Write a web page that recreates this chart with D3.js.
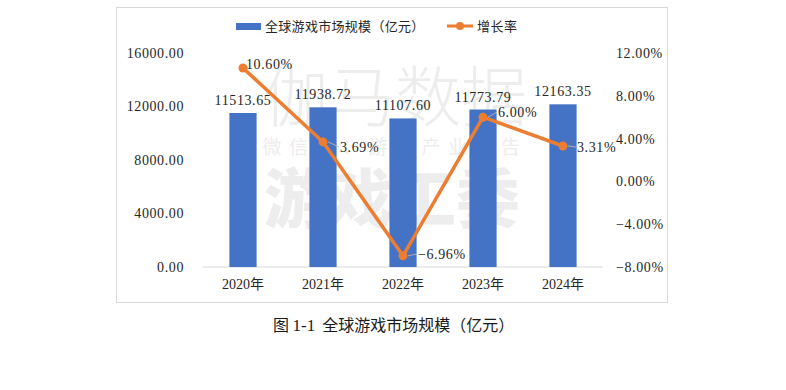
<!DOCTYPE html>
<html>
<head>
<meta charset="utf-8">
<script src="https://cdn.jsdelivr.net/npm/d3@7"></script>
<style>
  body { margin: 0; background: #fff; }
  svg { display: block; }
</style>
</head>
<body>
<div id="svg-area"></div>
<script>
// chart data
var years = ["2020年", "2021年", "2022年", "2023年", "2024年"];
var marketSize = [11513.65, 11938.72, 11107.60, 11773.79, 12163.35];
var growth = [10.60, 3.69, -6.96, 6.00, 3.31];
var leftTicks = [0, 4000, 8000, 12000, 16000];
var rightTicks = [-8, -4, 0, 4, 8, 12];
var seriesNames = ["全球游戏市场规模（亿元）", "增长率"];

var svgWidth = 786, svgHeight = 390;
var numFont = "'Liberation Serif', 'Noto Sans CJK SC', serif";
var blue = "#4472C4", orange = "#ED7D31";

var svg = d3.select("#svg-area").append("svg")
    .attr("width", svgWidth)
    .attr("height", svgHeight);

// chart frame
svg.append("rect")
    .attr("x", 116.5).attr("y", 7.5)
    .attr("width", 551).attr("height", 295)
    .attr("fill", "#fff")
    .attr("stroke", "#d9d9d9");

// watermark
var wm = svg.append("g").attr("fill", "#ededed").attr("text-anchor", "middle");
wm.append("text").attr("x", 395).attr("y", 121)
    .style("font-family", "'Noto Sans CJK SC'").style("font-size", "66px").style("font-weight", 300)
    .text("伽马数据");
wm.append("text").attr("x", 395).attr("y", 154)
    .style("font-family", "'Noto Sans CJK SC'").style("font-size", "19px").style("letter-spacing", "7.5px")
    .text("微信号：游戏产业报告");
wm.append("text").attr("x", 392).attr("y", 222)
    .style("font-family", "'Noto Sans CJK SC'").style("font-size", "64px").style("font-weight", 900)
    .text("游戏工委");

// scales
var x = d3.scaleBand()
    .domain(years)
    .range([203, 603])
    .paddingInner(0.66)
    .paddingOuter(0.33);

var yLeft = d3.scaleLinear().domain([0, 16000]).range([267, 53]);
var yRight = d3.scaleLinear().domain([-8, 12]).range([267, 53]);

// baseline
svg.append("line")
    .attr("x1", 203).attr("x2", 603)
    .attr("y1", yLeft(0)).attr("y2", yLeft(0))
    .attr("stroke", "#d9d9d9");

// left axis
var leftAxis = svg.append("g")
    .attr("transform", "translate(184,0)")
    .call(d3.axisLeft(yLeft).tickValues(leftTicks).tickSize(0).tickPadding(0)
        .tickFormat(d => d.toFixed(2)));
leftAxis.select(".domain").remove();
leftAxis.selectAll("text")
    .style("font-family", numFont).style("font-size", "14px")
    .style("letter-spacing", "0.6px").attr("fill", "#262626");

// right axis
var rightAxis = svg.append("g")
    .attr("transform", "translate(616,0)")
    .call(d3.axisRight(yRight).tickValues(rightTicks).tickSize(0).tickPadding(0)
        .tickFormat(d => (d < 0 ? "\u2212" + (-d).toFixed(2) : d.toFixed(2)) + "%"));
rightAxis.select(".domain").remove();
rightAxis.selectAll("text")
    .style("font-family", numFont).style("font-size", "14px")
    .style("letter-spacing", "0.6px").attr("fill", "#262626");

// bottom axis labels
var bottomAxis = svg.append("g")
    .attr("transform", "translate(0,267)")
    .call(d3.axisBottom(x).tickSize(0).tickPadding(12));
bottomAxis.select(".domain").remove();
bottomAxis.selectAll("text")
    .style("font-family", numFont).style("font-size", "14px").attr("fill", "#262626");

// bars
svg.selectAll(".bar")
    .data(marketSize)
    .enter()
    .append("rect")
    .attr("class", "bar")
    .attr("x", (d, i) => x(years[i]))
    .attr("y", d => yLeft(d))
    .attr("width", x.bandwidth())
    .attr("height", d => yLeft(0) - yLeft(d))
    .attr("fill", blue);

// bar labels
svg.selectAll(".barLabel")
    .data(marketSize)
    .enter()
    .append("text")
    .attr("x", (d, i) => x(years[i]) + x.bandwidth() / 2)
    .attr("y", d => yLeft(d) - 8)
    .attr("text-anchor", "middle")
    .style("font-family", numFont).style("font-size", "14px").style("letter-spacing", "0.6px")
    .attr("fill", "#262626")
    .text(d => d.toFixed(2));

// growth line
var cx = (d, i) => x(years[i]) + x.bandwidth() / 2;
var line = d3.line()
    .x(cx)
    .y(d => yRight(d));

svg.append("path")
    .datum(growth)
    .attr("d", line)
    .attr("fill", "none")
    .attr("stroke", orange)
    .attr("stroke-width", 3.5)
    .attr("stroke-linejoin", "round");

// label offsets from each point (dx to text start, dy to text middle)
var labelOffsets = [[3, -4], [17, 5], [15, -2], [15, -5], [14, 1]];

svg.selectAll(".leader")
    .data(growth)
    .enter()
    .filter((d, i) => i > 0)
    .append("line")
    .attr("x1", (d, i) => cx(d, i + 1) + 5)
    .attr("x2", (d, i) => cx(d, i + 1) + labelOffsets[i + 1][0] - 1)
    .attr("y1", d => yRight(d))
    .attr("y2", (d, i) => yRight(d) + labelOffsets[i + 1][1])
    .attr("stroke", "#bfbfbf")
    .attr("stroke-width", 0.8);

svg.selectAll(".dot")
    .data(growth)
    .enter()
    .append("circle")
    .attr("cx", cx)
    .attr("cy", d => yRight(d))
    .attr("r", 4.5)
    .attr("fill", orange);

svg.selectAll(".lineLabel")
    .data(growth)
    .enter()
    .append("text")
    .attr("x", (d, i) => cx(d, i) + labelOffsets[i][0])
    .attr("y", (d, i) => yRight(d) + labelOffsets[i][1])
    .attr("dy", "0.35em")
    .style("font-family", numFont).style("font-size", "14px").style("letter-spacing", "0.6px")
    .attr("fill", "#262626")
    .text(d => (d < 0 ? "\u2212" + (-d).toFixed(2) : d.toFixed(2)) + "%");

// legend
var legend = svg.append("g").attr("transform", "translate(0,26)");
legend.append("rect")
    .attr("x", 236).attr("y", -3).attr("width", 25).attr("height", 7)
    .attr("fill", blue);
legend.append("text")
    .attr("x", 265).attr("dy", "0.35em")
    .style("font-family", "'Noto Sans CJK SC'").style("font-size", "13px").style("letter-spacing", "0.3px")
    .attr("fill", "#262626")
    .text(seriesNames[0]);
legend.append("line")
    .attr("x1", 447).attr("x2", 473)
    .attr("stroke", orange).attr("stroke-width", 3);
legend.append("circle")
    .attr("cx", 460).attr("r", 4).attr("fill", orange);
legend.append("text")
    .attr("x", 477).attr("dy", "0.35em")
    .style("font-family", "'Noto Sans CJK SC'").style("font-size", "13px").style("letter-spacing", "0.5px")
    .attr("fill", "#262626")
    .text(seriesNames[1]);

// caption
var caption = svg.append("text")
    .attr("x", 273).attr("y", 331)
    .style("font-family", "'Noto Sans CJK SC'").style("font-size", "16px").style("font-weight", 400)
    .attr("fill", "#1a1a1a");
caption.append("tspan").text("图 ");
caption.append("tspan").style("font-family", numFont).style("font-size", "17px").text("1-1");
caption.append("tspan").attr("dx", 7).text("全球游戏市场规模（亿元）");
</script>
</body>
</html>
